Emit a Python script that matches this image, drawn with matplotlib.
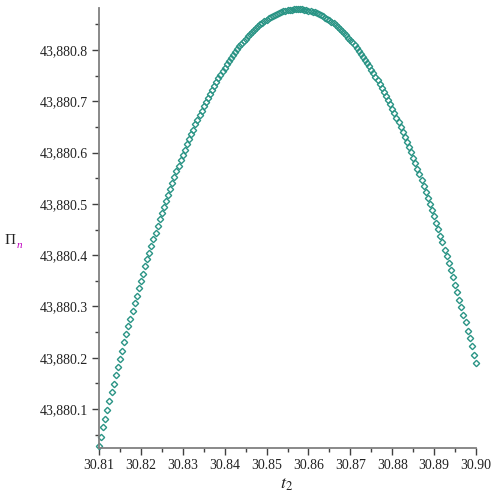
import matplotlib
matplotlib.use('Agg')
import matplotlib.pyplot as plt
from matplotlib.ticker import MultipleLocator, FuncFormatter

# sample points (t2, Pi_n)
t2 = [
    30.8100, 30.8105, 30.8110, 30.8115, 30.8120, 30.8125, 30.8130, 30.8135, 30.8140, 30.8145,
    30.8150, 30.8155, 30.8160, 30.8165, 30.8170, 30.8175, 30.8180, 30.8185, 30.8190, 30.8195,
    30.8200, 30.8205, 30.8210, 30.8215, 30.8220, 30.8225, 30.8230, 30.8235, 30.8240, 30.8245,
    30.8250, 30.8255, 30.8260, 30.8265, 30.8270, 30.8275, 30.8280, 30.8285, 30.8290, 30.8295,
    30.8300, 30.8305, 30.8310, 30.8315, 30.8320, 30.8325, 30.8330, 30.8335, 30.8340, 30.8345,
    30.8350, 30.8355, 30.8360, 30.8365, 30.8370, 30.8375, 30.8380, 30.8385, 30.8390, 30.8395,
    30.8400, 30.8405, 30.8410, 30.8415, 30.8420, 30.8425, 30.8430, 30.8435, 30.8440, 30.8445,
    30.8450, 30.8455, 30.8460, 30.8465, 30.8470, 30.8475, 30.8480, 30.8485, 30.8490, 30.8495,
    30.8500, 30.8505, 30.8510, 30.8515, 30.8520, 30.8525, 30.8530, 30.8535, 30.8540, 30.8545,
    30.8550, 30.8555, 30.8560, 30.8565, 30.8570, 30.8575, 30.8580, 30.8585, 30.8590, 30.8595,
    30.8600, 30.8605, 30.8610, 30.8615, 30.8620, 30.8625, 30.8630, 30.8635, 30.8640, 30.8645,
    30.8650, 30.8655, 30.8660, 30.8665, 30.8670, 30.8675, 30.8680, 30.8685, 30.8690, 30.8695,
    30.8700, 30.8705, 30.8710, 30.8715, 30.8720, 30.8725, 30.8730, 30.8735, 30.8740, 30.8745,
    30.8750, 30.8755, 30.8760, 30.8765, 30.8770, 30.8775, 30.8780, 30.8785, 30.8790, 30.8795,
    30.8800, 30.8805, 30.8810, 30.8815, 30.8820, 30.8825, 30.8830, 30.8835, 30.8840, 30.8845,
    30.8850, 30.8855, 30.8860, 30.8865, 30.8870, 30.8875, 30.8880, 30.8885, 30.8890, 30.8895,
    30.8900, 30.8905, 30.8910, 30.8915, 30.8920, 30.8925, 30.8930, 30.8935, 30.8940, 30.8945,
    30.8950, 30.8955, 30.8960, 30.8965, 30.8970, 30.8975, 30.8980, 30.8985, 30.8990, 30.8995,
    30.9000,
]
pi_n = [
    43880.028, 43880.046, 43880.064, 43880.081, 43880.098, 43880.116, 43880.133, 43880.149, 43880.166, 43880.182,
    43880.198, 43880.214, 43880.230, 43880.246, 43880.261, 43880.276, 43880.292, 43880.306, 43880.321, 43880.336,
    43880.350, 43880.364, 43880.378, 43880.392, 43880.405, 43880.418, 43880.432, 43880.444, 43880.457, 43880.470,
    43880.482, 43880.494, 43880.506, 43880.518, 43880.530, 43880.541, 43880.553, 43880.564, 43880.574, 43880.585,
    43880.596, 43880.606, 43880.616, 43880.626, 43880.636, 43880.645, 43880.655, 43880.664, 43880.673, 43880.681,
    43880.690, 43880.698, 43880.707, 43880.715, 43880.722, 43880.730, 43880.738, 43880.745, 43880.752, 43880.759,
    43880.765, 43880.772, 43880.778, 43880.784, 43880.790, 43880.796, 43880.802, 43880.807, 43880.812, 43880.817,
    43880.822, 43880.827, 43880.831, 43880.835, 43880.839, 43880.843, 43880.847, 43880.850, 43880.853, 43880.857,
    43880.859, 43880.862, 43880.865, 43880.867, 43880.869, 43880.871, 43880.873, 43880.874, 43880.876, 43880.877,
    43880.878, 43880.879, 43880.879, 43880.880, 43880.880, 43880.880, 43880.880, 43880.880, 43880.879, 43880.878,
    43880.877, 43880.876, 43880.875, 43880.874, 43880.872, 43880.870, 43880.868, 43880.866, 43880.863, 43880.861,
    43880.858, 43880.855, 43880.852, 43880.848, 43880.845, 43880.841, 43880.837, 43880.833, 43880.829, 43880.824,
    43880.819, 43880.815, 43880.810, 43880.804, 43880.799, 43880.793, 43880.787, 43880.781, 43880.775, 43880.769,
    43880.762, 43880.755, 43880.748, 43880.741, 43880.734, 43880.726, 43880.718, 43880.711, 43880.702, 43880.694,
    43880.686, 43880.677, 43880.668, 43880.659, 43880.650, 43880.640, 43880.631, 43880.621, 43880.611, 43880.601,
    43880.590, 43880.580, 43880.569, 43880.558, 43880.547, 43880.535, 43880.524, 43880.512, 43880.500, 43880.488,
    43880.476, 43880.463, 43880.451, 43880.438, 43880.425, 43880.411, 43880.398, 43880.384, 43880.371, 43880.357,
    43880.342, 43880.328, 43880.313, 43880.299, 43880.284, 43880.269, 43880.253, 43880.238, 43880.222, 43880.206,
    43880.190,
]

plt.rcParams['font.family'] = ['Liberation Serif', 'DejaVu Serif']
plt.rcParams['mathtext.fontset'] = 'stix'

fig = plt.figure(figsize=(5, 5), dpi=100)
ax = fig.add_axes([0.198, 0.104, 0.754, 0.88])

point_color = '#2a9485'
ax.plot(t2, pi_n, linestyle='none', marker='D', markersize=3.2,
        markerfacecolor='none', markeredgecolor=point_color,
        markeredgewidth=1.0, clip_on=False)

ax.set_xlim(30.81, 30.90)
ax.set_ylim(43880.024, 43880.882)

for side in ('top', 'right'):
    ax.spines[side].set_visible(False)
for side in ('left', 'bottom'):
    ax.spines[side].set_color('#808080')
    ax.spines[side].set_linewidth(1.3)

ax.xaxis.set_major_locator(MultipleLocator(0.01))
ax.xaxis.set_minor_locator(MultipleLocator(0.005))
ax.yaxis.set_major_locator(MultipleLocator(0.1))
ax.yaxis.set_minor_locator(MultipleLocator(0.05))
ax.xaxis.set_major_formatter(FuncFormatter(lambda v, p: '%.2f' % v))
ax.yaxis.set_major_formatter(FuncFormatter(lambda v, p: '{:,.1f}'.format(v)))

ax.tick_params(which='major', direction='out', length=5, width=1, color='#404040',
               labelsize=10, labelcolor='#222222', pad=3)
ax.tick_params(which='minor', direction='out', length=3, width=1, color='#404040')

# axis titles placed like the original
fig.text(0.574, 0.022, r'$t_2$', fontsize=13, color='#222222', ha='center')
fig.text(0.010, 0.512, 'Π', fontsize=11, color='#222222')
fig.text(0.033, 0.505, 'n', fontsize=8, style='italic', color='#c000c0')

fig.savefig('out.png', dpi=100)
